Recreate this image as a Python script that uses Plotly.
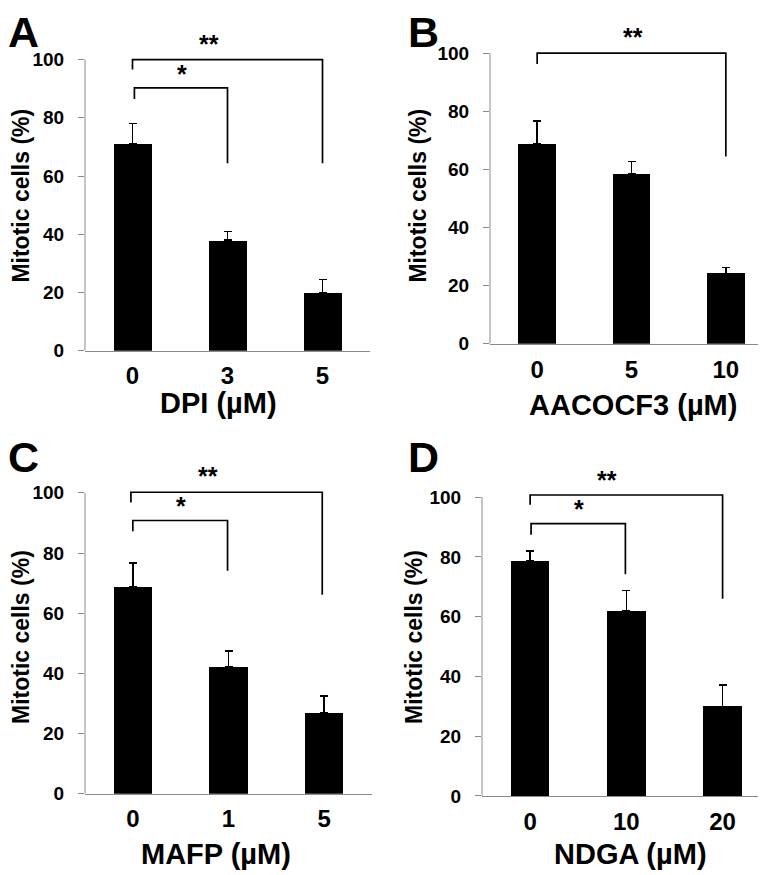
import plotly.graph_objects as go

W, H = 766, 875
FONT = "Liberation Sans, Arial, sans-serif"

# ---------------- data ----------------
labels_A = ["0", "3", "5"]
vals_A = [71.0, 38.0, 19.8]
errs_A = [7.0, 3.0, 4.6]

labels_B = ["0", "5", "10"]
vals_B = [68.7, 58.5, 24.2]
errs_B = [8.0, 4.2, 2.1]

labels_C = ["0", "1", "5"]
vals_C = [68.9, 42.2, 26.8]
errs_C = [7.8, 5.2, 5.7]

labels_D = ["0", "10", "20"]
vals_D = [78.6, 61.9, 30.0]
errs_D = [3.4, 6.8, 7.1]

xtitles = ["DPI (µM)", "AACOCF3 (µM)", "MAFP (µM)", "NDGA (µM)"]
ytitle = "Mitotic cells (%)"
panel_letters = ["A", "B", "C", "D"]
yticks = [0, 20, 40, 60, 80, 100]

# significance brackets: (x_left, x_right, y_top, y_left_end, y_right_end, label, label_x, label_y)
sig_A = [(0.0, 2.0, 100.0, 96.6, 64.4, "**", 0.80, 104.8),
         (0.02, 1.0, 90.3, 86.5, 64.4, "*", 0.52, 94.5)]
sig_B = [(0.0, 2.0, 100.0, 96.3, 64.4, "**", 1.02, 104.8)]
sig_C = [(-0.02, 1.98, 100.2, 96.8, 66.1, "**", 0.79, 105.0),
         (0.0, 0.99, 90.8, 87.2, 74.1, "*", 0.50, 95.0)]
sig_D = [(0.0, 2.0, 100.7, 97.4, 66.0, "**", 0.80, 105.2),
         (0.01, 0.99, 91.1, 87.4, 74.2, "*", 0.51, 95.5)]

# ---------------- layout geometry (pixels) ----------------
# (x_left, x_right, y_px_at_0, y_px_at_100)
geom = [(77, 362, 347, 52.3),
        (482, 765, 340, 45.7),
        (77, 364, 795.7, 491),
        (474, 762.7, 798, 495.3)]
YMAX = 110
# axis title centres (px)
xtitle_pos = [(210, 400), (625, 402), (208, 857), (622, 857)]
ytitle_pos = [(13, 190), (410, 190), (13, 637), (406, 637)]
letter_pos = [(-2, 0), (398, 0), (-2, 430), (398, 430)]

panels = [(labels_A, vals_A, errs_A, sig_A),
          (labels_B, vals_B, errs_B, sig_B),
          (labels_C, vals_C, errs_C, sig_C),
          (labels_D, vals_D, errs_D, sig_D)]

fig = go.Figure()
annotations = []
shapes = []
AXC = "#8a8a8a"

for i, ((labs, vals, errs, sigs), (x0, x1, y0, y100)) in enumerate(zip(panels, geom)):
    n = i + 1
    xa = "x" if n == 1 else f"x{n}"
    ya = "y" if n == 1 else f"y{n}"
    xkey = "xaxis" if n == 1 else f"xaxis{n}"
    ykey = "yaxis" if n == 1 else f"yaxis{n}"
    ytop = y0 - (y0 - y100) * YMAX / 100.0
    fig.add_trace(go.Bar(
        x=list(range(len(vals))), y=vals, width=0.4,
        marker=dict(color="black", line=dict(width=0)),
        error_y=dict(type="data", array=errs, arrayminus=[0] * len(errs),
                     symmetric=False, color="black", thickness=1.5, width=4),
        xaxis=xa, yaxis=ya, showlegend=False, hoverinfo="skip"))
    for (xl, xr, yt, yle, yre, lab, lx, ly) in sigs:
        fig.add_trace(go.Scatter(
            x=[xl, xl, xr, xr], y=[yle, yt, yt, yre], mode="lines",
            line=dict(color="black", width=1.7), xaxis=xa, yaxis=ya,
            showlegend=False, hoverinfo="skip"))
        annotations.append(dict(x=lx, y=ly, xref=xa, yref=ya, text=f"<b>{lab}</b>",
                                showarrow=False, font=dict(family=FONT, size=25, color="black"),
                                xanchor="center", yanchor="middle", yshift=2))
    fig.layout[xkey] = dict(domain=[x0 / W, x1 / W], anchor=ya, range=[-0.5, len(vals) - 0.5],
                            tickvals=list(range(len(vals))), ticktext=labs,
                            showline=True, linecolor=AXC, linewidth=1,
                            showgrid=False, zeroline=False, ticks="",
                            ticklabelstandoff=4,
                            tickfont=dict(family=FONT, size=24, color="black", weight="bold"))
    fig.layout[ykey] = dict(domain=[1 - y0 / H, 1 - ytop / H], anchor=xa, range=[0, YMAX],
                            tickvals=yticks, ticks="outside", ticklen=6, tickcolor=AXC, tickwidth=1,
                            showline=False, showgrid=False, zeroline=False,
                            ticklabelstandoff=10,
                            tickfont=dict(family=FONT, size=19, color="black", weight="bold"))
    shapes.append(dict(type="line", xref=f"{xa} domain", yref=ya, x0=0, x1=0, y0=0, y1=100,
                       line=dict(color=AXC, width=1)))
    tx, ty = xtitle_pos[i]
    annotations.append(dict(x=tx / W, y=1 - ty / H, xref="paper", yref="paper",
                            text=f"<b>{xtitles[i]}</b>", showarrow=False,
                            font=dict(family=FONT, size=29, color="black"),
                            xanchor="center", yanchor="middle"))
    yx, yy = ytitle_pos[i]
    annotations.append(dict(x=yx / W, y=1 - yy / H, xref="paper", yref="paper",
                            text=f"<b>{ytitle}</b>", showarrow=False, textangle=-90,
                            font=dict(family=FONT, size=23, color="black"),
                            xanchor="center", yanchor="middle"))
    lx, ly = letter_pos[i]
    annotations.append(dict(x=lx / W, y=1 - ly / H, xref="paper", yref="paper",
                            text=f"<b>{panel_letters[i]}</b>", showarrow=False,
                            font=dict(family=FONT, size=43, color="black"),
                            xanchor="left", yanchor="top", yshift=2))

fig.update_layout(width=W, height=H, margin=dict(l=0, r=0, t=0, b=0),
                  paper_bgcolor="white", plot_bgcolor="white",
                  annotations=annotations, shapes=shapes, bargap=0)
fig.write_html("out.html")
